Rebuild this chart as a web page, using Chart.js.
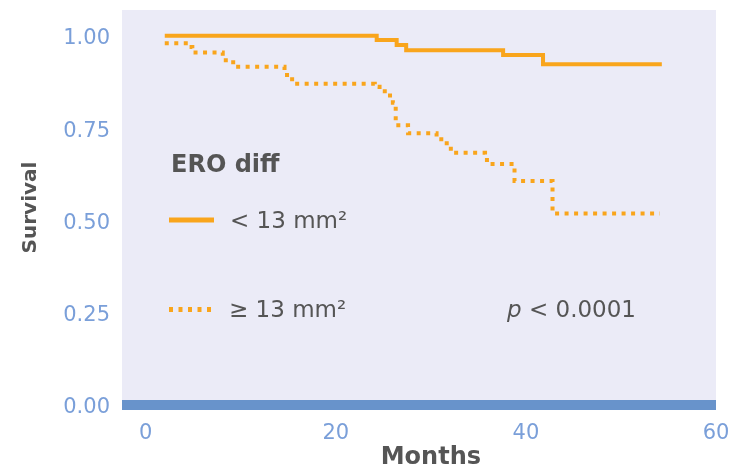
<!DOCTYPE html>
<html>
<head>
<meta charset="utf-8">
<script src="https://cdn.jsdelivr.net/npm/chart.js@4"></script>
<style>
  html, body { margin: 0; padding: 0; background: #ffffff; }
  #wrap { width: 737px; height: 469px; }
</style>
</head>
<body>
<div id="wrap"><canvas id="km" width="737" height="469"></canvas></div>
<script>
// Kaplan-Meier survival by ERO difference group
const lowMonths = [2.0, 24.3, 26.4, 27.4, 37.6, 41.8, 54.3];
const lowSurvival = [1.0, 0.989, 0.975, 0.961, 0.948, 0.923, 0.923];

const highMonths = [2.0, 4.6, 4.9, 8.1, 9.2, 14.6, 15.4, 24.1, 24.6, 25.4, 25.7, 26.0, 26.3, 27.6, 30.6, 31.4, 32.1, 35.7, 35.9, 38.8, 42.8, 54.1];
const highSurvival = [0.980, 0.970, 0.955, 0.934, 0.916, 0.894, 0.870, 0.862, 0.850, 0.844, 0.829, 0.819, 0.758, 0.736, 0.720, 0.709, 0.683, 0.670, 0.653, 0.607, 0.519, 0.519];

const xTicks = [0, 20, 40, 60];
const yTicks = [0, 0.25, 0.5, 0.75, 1.0];

const groupLabels = ['< 13 mm\u00B2', '\u2265 13 mm\u00B2'];
const legendTitle = 'ERO diff';
const pValueText = '< 0.0001';
const xTitle = 'Months';

const ORANGE = '#f9a51c';
const TICK_BLUE = '#7a9fd9';
const TEXT_GREY = '#555555';
const PANEL = '#ebebf7';
const AXIS_BLUE = '#6893cb';
const FONT = '"DejaVu Sans", "Liberation Sans", sans-serif';

const toPoints = (xs, ys) => xs.map((x, i) => ({ x, y: ys[i] }));

const panelPlugin = {
  id: 'panel',
  beforeDraw(chart) {
    const { ctx, chartArea: a } = chart;
    ctx.save();
    ctx.fillStyle = PANEL;
    ctx.fillRect(a.left, a.top, a.right - a.left, a.bottom - a.top + 5);
    ctx.restore();
  },
  afterDatasetsDraw(chart) {
    const { ctx, chartArea: a, scales } = chart;
    const y0 = scales.y.getPixelForValue(0);
    ctx.save();
    // thick baseline at survival 0
    ctx.fillStyle = AXIS_BLUE;
    ctx.fillRect(a.left, y0 - 5, a.right - a.left, 10);

    // x-axis title, centred on the month range
    ctx.fillStyle = TEXT_GREY;
    ctx.textAlign = 'center';
    ctx.textBaseline = 'middle';
    ctx.font = 'bold 24px ' + FONT;
    ctx.fillText(xTitle, scales.x.getPixelForValue(30), 458);

    // legend
    ctx.textBaseline = 'alphabetic';
    ctx.textAlign = 'left';
    ctx.font = 'bold 24px ' + FONT;
    ctx.fillText(legendTitle, 171, 172);

    ctx.strokeStyle = ORANGE;
    ctx.lineWidth = 5;
    ctx.lineCap = 'butt';
    ctx.beginPath();
    ctx.moveTo(169, 220);
    ctx.lineTo(214, 220);
    ctx.stroke();

    ctx.setLineDash([4, 5.5]);
    ctx.beginPath();
    ctx.moveTo(169, 309.5);
    ctx.lineTo(214, 309.5);
    ctx.stroke();
    ctx.setLineDash([]);

    ctx.font = '23px ' + FONT;
    ctx.fillText(groupLabels[0], 230, 228);
    ctx.fillText(groupLabels[1], 229, 317);

    ctx.font = 'italic 23px ' + FONT;
    ctx.fillText('p', 507, 317);
    const pw = ctx.measureText('p ').width;
    ctx.font = '23px ' + FONT;
    ctx.fillText(pValueText, 507 + pw, 317);
    ctx.restore();
  }
};

new Chart(document.getElementById('km'), {
  type: 'line',
  data: {
    datasets: [
      {
        label: groupLabels[0],
        data: toPoints(lowMonths, lowSurvival),
        borderColor: ORANGE,
        borderWidth: 4,
        stepped: 'before',
        pointRadius: 0,
        fill: false
      },
      {
        label: groupLabels[1],
        data: toPoints(highMonths, highSurvival),
        borderColor: ORANGE,
        borderWidth: 4,
        borderDash: [4, 5.5],
        borderCapStyle: 'butt',
        stepped: 'before',
        pointRadius: 0,
        fill: false
      }
    ]
  },
  options: {
    responsive: false,
    animation: false,
    devicePixelRatio: 1,
    layout: { padding: { top: 10, right: 21, left: 0, bottom: 0 } },
    plugins: { legend: { display: false }, tooltip: { enabled: false } },
    scales: {
      x: {
        type: 'linear',
        min: -2.5,
        max: 60,
        afterBuildTicks(scale) { scale.ticks = xTicks.map(v => ({ value: v })); },
        afterFit(scale) {
          scale.height = 64;
          scale.paddingLeft = 0;
          scale.paddingRight = 0;
        },
        grid: { display: false, drawTicks: false },
        border: { display: false },
        ticks: {
          color: TICK_BLUE,
          font: { family: FONT, size: 21 },
          padding: 16,
          maxRotation: 0
        },
        title: { display: false }
      },
      y: {
        type: 'linear',
        min: 0,
        max: 1.07,
        afterBuildTicks(scale) { scale.ticks = yTicks.map(v => ({ value: v })); },
        afterFit(scale) {
          scale.width = 122;
          scale.paddingTop = 0;
          scale.paddingBottom = 0;
        },
        grid: { display: false, drawTicks: false },
        border: { display: false },
        ticks: {
          color: TICK_BLUE,
          font: { family: FONT, size: 21 },
          padding: 12,
          labelOffset: 3,
          callback: v => Number(v).toFixed(2)
        },
        title: {
          display: true,
          text: 'Survival',
          color: TEXT_GREY,
          font: { family: FONT, size: 20, weight: 'bold', lineHeight: 1 },
          padding: { top: 21, bottom: 0 }
        }
      }
    }
  },
  plugins: [panelPlugin]
});
</script>
</body>
</html>
